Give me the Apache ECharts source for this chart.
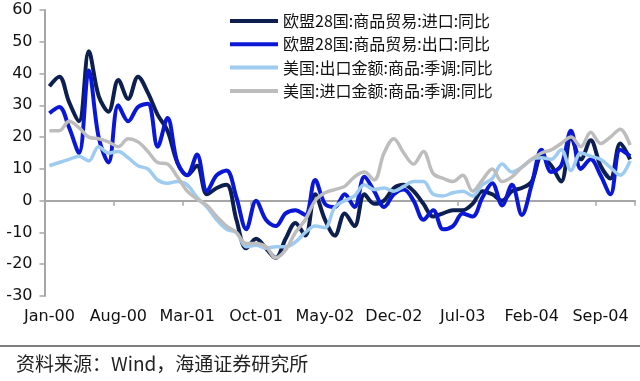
<!DOCTYPE html>
<html>
<head>
<meta charset="utf-8">
<script src="https://cdn.jsdelivr.net/npm/echarts@6/dist/echarts.min.js"></script>
<style>
html,body{margin:0;padding:0;background:#fff;}
#chart{width:640px;height:381px;}
</style>
</head>
<body>
<div id="chart"></div>
<script>
const months = [
 'Jan-00','Feb-00','Mar-00','Apr-00','May-00','Jun-00','Jul-00','Aug-00','Sep-00','Oct-00','Nov-00','Dec-00',
 'Jan-01','Feb-01','Mar-01','Apr-01','May-01','Jun-01','Jul-01','Aug-01','Sep-01','Oct-01','Nov-01','Dec-01',
 'Jan-02','Feb-02','Mar-02','Apr-02','May-02','Jun-02','Jul-02','Aug-02','Sep-02','Oct-02','Nov-02','Dec-02',
 'Jan-03','Feb-03','Mar-03','Apr-03','May-03','Jun-03','Jul-03','Aug-03','Sep-03','Oct-03','Nov-03','Dec-03',
 'Jan-04','Feb-04','Mar-04','Apr-04','May-04','Jun-04','Jul-04','Aug-04','Sep-04','Oct-04','Nov-04','Dec-04'
];
const seriesNames = ['欧盟28国:商品贸易:进口:同比','欧盟28国:商品贸易:出口:同比','美国:出口金额:商品:季调:同比','美国:进口金额:商品:季调:同比'];
const euImports = [36,39,31,25,47,33,28,38,32,39,34,27,22,12,8,11,2,4,5,-6,-15,-12,-15,-18,-12,-7,-11,2,-6,-11,-4,-8,2,-1,0,4,5,3,-1,-5,-4,-3,-3,-1,3,2,0,3,4,6,14,11,6,20,13,19,11,7,18,13];
const euExports = [27.5,29.5,23,15,41,20,12,30,25,29.5,30.5,17,26,12,8,14.5,3,8,9.5,1,-9,0,-6,-8,-4,-3,-4.5,6.5,-1,-2,2,-2,7.5,3,-2,2,3.5,0,-6,-3,-9,-8,-4,-5,1,5.5,-1.5,5,-4.5,5,16,9,11,22,10,13,8,2,16,14];
const usExports = [11,12,13,14,12.5,17,15,15.5,13.5,11,10,6.5,5.5,6,5,1,-2,-6,-9,-10,-14.5,-14,-15,-14.5,-14.5,-13,-10,-8,-8.5,-2,0,1.5,5,3.5,4,3,4.5,6,6,2,1.5,2.5,3,1.5,5,7,11.5,9,10.5,13,13.5,13,16,9.5,15,14,13,10.5,8,12.5];
const usImports = [22,22,25,23,20,19.5,18.5,17,19.5,18.5,15.5,12,11.5,7.5,3,0.5,-1.5,-5,-8,-10,-13.5,-13.5,-14.5,-18,-15.5,-10,-6,0,2.5,3.5,4.5,7.5,9,6.5,15,19.5,15,11.5,15.5,8.5,7,6,8,3,6.5,10,6,7.5,10.5,13,15,16,18,20,17,21.5,18,20,22.5,17.5];
const yMin = -30, yMax = 60, yStep = 10;
const sourceText = '资料来源：Wind，海通证券研究所';

const colors = ['#0d1f4f','#0a18d6','#9ecbf0','#bdbdbd'];
const widths = [4,4,3.5,3.5];
const datasets = [euImports, euExports, usExports, usImports];

const chart = echarts.init(document.getElementById('chart'), null, {renderer:'canvas'});
const axisGray = '#a6a6a6';
chart.setOption({
  animation:false,
  backgroundColor:'#fff',
  color: colors,
  grid:{left:44.5, right:5, top:10, bottom:85, containLabel:false},
  legend:{
    orient:'vertical', left:225, top:8,
    icon:'rect',
    itemWidth:48, itemHeight:4, itemGap:7.3,
    textStyle:{fontFamily:'Noto Sans CJK SC', fontSize:16, color:'#111', lineHeight:14, height:14},
    data: seriesNames
  },
  xAxis:[{
    type:'category', data:months, boundaryGap:true, position:'bottom',
    axisLine:{show:false, onZero:false}, axisTick:{show:false},
    axisLabel:{interval:6, fontFamily:'DejaVu Sans', fontSize:16, color:'#111', margin:13}
  },{
    type:'category', data:months, boundaryGap:true, position:'bottom',
    axisLine:{show:true, onZero:true, lineStyle:{color:axisGray, width:2}},
    axisTick:{show:true, interval:6, length:5, lineStyle:{color:axisGray, width:1.5}},
    axisLabel:{show:false}
  }],
  yAxis:{
    type:'value', min:yMin, max:yMax, interval:yStep,
    axisLine:{show:true, lineStyle:{color:axisGray, width:2}},
    axisTick:{show:true, length:5, lineStyle:{color:axisGray, width:1.5}},
    splitLine:{show:false},
    axisLabel:{fontFamily:'DejaVu Sans', fontSize:16, color:'#111', margin:12}
  },
  series: datasets.map((d,i)=>({
    name:seriesNames[i], type:'line', data:d, xAxisIndex:0,
    symbol:'none', smooth:0.35,
    lineStyle:{width:widths[i], color:colors[i]},
    itemStyle:{color:colors[i]}
  })),
  graphic:[
    {type:'line', shape:{x1:0,y1:346,x2:640,y2:346}, style:{stroke:'#555', lineWidth:1.5}},
    {type:'text', left:16, top:354, style:{text:sourceText, font:'19px "Noto Sans CJK SC"', fill:'#222'}}
  ]
});
</script>
</body>
</html>
